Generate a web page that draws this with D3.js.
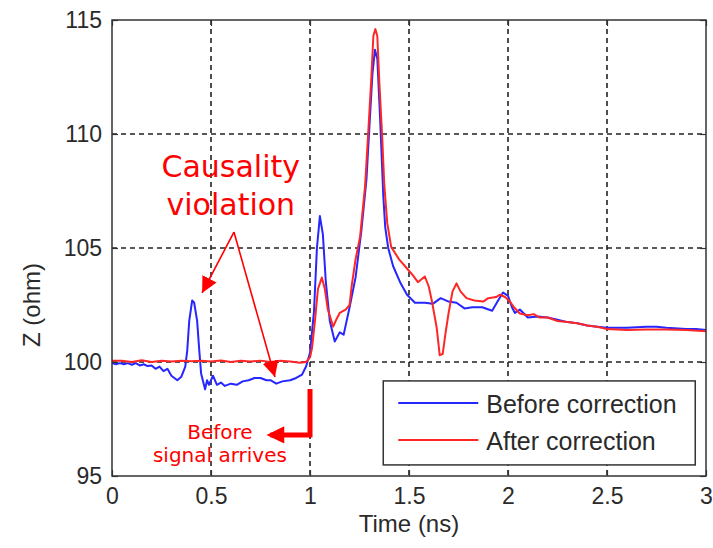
<!DOCTYPE html>
<html>
<head>
<meta charset="utf-8">
<script src="https://cdn.jsdelivr.net/npm/d3@7"></script>
<style>
  body { margin: 0; background: #fff; }
  text { font-family: "Liberation Sans", Arial, sans-serif; }
</style>
</head>
<body>
<svg id="chart" width="713" height="548"></svg>
<script>
// time (ns) ticks and impedance ticks
const xTicks = [0, 0.5, 1, 1.5, 2, 2.5, 3];
const yTicks = [95, 100, 105, 110, 115];

// "Before correction" trace: [time ns, Z ohm]
const before = [
  [0, 99.95], [0.02, 99.9], [0.04, 99.95], [0.06, 99.9], [0.08, 99.95], [0.1, 99.88],
  [0.12, 99.95], [0.14, 99.85], [0.16, 99.9], [0.18, 99.82], [0.2, 99.85], [0.22, 99.7],
  [0.24, 99.8], [0.26, 99.6], [0.28, 99.7], [0.3, 99.4], [0.33, 99.2], [0.35, 99.35],
  [0.37, 99.8], [0.38, 100.5], [0.39, 101.8], [0.405, 102.7], [0.415, 102.6], [0.43, 101.8],
  [0.44, 100.6], [0.45, 99.5], [0.47, 98.8], [0.48, 99.2], [0.49, 99.0], [0.51, 99.4],
  [0.53, 99.0], [0.55, 99.1], [0.57, 98.95], [0.6, 99.05], [0.63, 99.0], [0.66, 99.15],
  [0.69, 99.2], [0.72, 99.3], [0.75, 99.3], [0.78, 99.2], [0.8, 99.2], [0.83, 99.05],
  [0.86, 99.15], [0.9, 99.2], [0.93, 99.3], [0.96, 99.45], [0.98, 99.8], [1.0, 100.4],
  [1.02, 102.2], [1.035, 105.0], [1.05, 106.4], [1.065, 105.6], [1.08, 103.5], [1.1, 101.8],
  [1.125, 100.9], [1.15, 101.3], [1.17, 101.2], [1.2, 102.4], [1.23, 103.7], [1.26, 105.8],
  [1.285, 108.0], [1.3, 110.3], [1.315, 112.6], [1.328, 113.7], [1.34, 113.3], [1.355, 110.5],
  [1.37, 107.3], [1.38, 105.9], [1.395, 105.0], [1.42, 104.2], [1.455, 103.5], [1.49, 102.95],
  [1.53, 102.6], [1.58, 102.6], [1.62, 102.55], [1.66, 102.8], [1.7, 102.65], [1.74, 102.6],
  [1.78, 102.35], [1.82, 102.4], [1.87, 102.4], [1.92, 102.25], [1.95, 102.7], [1.975, 103.05],
  [2.0, 102.9], [2.02, 102.4], [2.035, 102.15], [2.06, 102.3], [2.1, 101.95], [2.15, 102.0],
  [2.2, 101.95], [2.25, 101.85], [2.3, 101.75], [2.35, 101.7], [2.4, 101.6], [2.45, 101.55],
  [2.5, 101.5], [2.6, 101.5], [2.7, 101.55], [2.75, 101.55], [2.8, 101.5], [2.9, 101.45],
  [2.95, 101.45], [3.0, 101.4]
];

// "After correction" trace
const after = [
  [0, 100.05], [0.05, 100.05], [0.1, 100.0], [0.15, 100.08], [0.2, 100.0], [0.25, 100.05],
  [0.3, 100.02], [0.35, 100.06], [0.4, 100.03], [0.45, 100.06], [0.5, 100.02], [0.55, 100.07],
  [0.6, 100.0], [0.65, 100.05], [0.7, 100.02], [0.75, 100.06], [0.8, 100.0], [0.85, 100.05],
  [0.9, 100.02], [0.95, 99.97], [0.98, 100.0], [0.99, 100.1], [1.0, 100.2], [1.01, 100.6],
  [1.025, 101.8], [1.04, 103.2], [1.06, 103.7], [1.075, 103.2], [1.09, 102.3], [1.117, 101.55],
  [1.135, 101.9], [1.15, 102.15], [1.18, 102.3], [1.2, 102.5], [1.21, 103.3], [1.23, 104.5],
  [1.253, 105.5], [1.278, 107.7], [1.295, 110.2], [1.31, 112.5], [1.32, 114.3], [1.33, 114.6],
  [1.34, 114.3], [1.35, 112.3], [1.365, 109.8], [1.375, 107.8], [1.39, 106.1], [1.41, 105.05],
  [1.45, 104.5], [1.49, 104.1], [1.52, 103.8], [1.545, 103.5], [1.58, 103.75], [1.6, 103.3],
  [1.615, 102.7], [1.64, 101.5], [1.655, 100.3], [1.67, 100.35], [1.685, 101.3], [1.7, 102.15],
  [1.72, 103.1], [1.74, 103.45], [1.76, 103.1], [1.79, 102.8], [1.83, 102.7], [1.875, 102.65],
  [1.9, 102.8], [1.94, 102.85], [1.96, 102.95], [1.985, 102.85], [2.01, 102.65], [2.03, 102.4],
  [2.06, 102.13], [2.1, 102.05], [2.13, 102.1], [2.16, 101.95], [2.2, 101.95], [2.25, 101.8],
  [2.3, 101.75], [2.35, 101.7], [2.4, 101.6], [2.45, 101.55], [2.5, 101.45], [2.6, 101.4],
  [2.7, 101.42], [2.8, 101.42], [2.9, 101.4], [3.0, 101.35]
];

const series = [
  { name: "Before correction", color: "#2626ff", values: before },
  { name: "After correction", color: "#ff2626", values: after }
];

const svg = d3.select("#chart");
const margin = { left: 112, top: 20, right: 7, bottom: 72 };
const width = 713 - margin.left - margin.right;
const height = 548 - margin.top - margin.bottom;

const x = d3.scaleLinear().domain([0, 3]).range([0, width]);
const y = d3.scaleLinear().domain([95, 115]).range([height, 0]);

const g = svg.append("g").attr("transform", `translate(${margin.left},${margin.top})`);

// dashed grid
g.append("g").selectAll("line").data(xTicks.slice(1, -1)).enter().append("line")
  .attr("x1", d => x(d)).attr("x2", d => x(d))
  .attr("y1", 0).attr("y2", height)
  .attr("stroke", "#222").attr("stroke-width", 1.6).attr("stroke-dasharray", "5,4");
g.append("g").selectAll("line").data(yTicks.slice(1, -1)).enter().append("line")
  .attr("x1", 0).attr("x2", width)
  .attr("y1", d => y(d)).attr("y2", d => y(d))
  .attr("stroke", "#222").attr("stroke-width", 1.6).attr("stroke-dasharray", "5,4");

// traces
const line = d3.line().x(d => x(d[0])).y(d => y(d[1]));
g.append("g").selectAll("path").data(series).enter().append("path")
  .attr("d", d => line(d.values))
  .attr("fill", "none")
  .attr("stroke", d => d.color)
  .attr("stroke-width", 2)
  .attr("stroke-linejoin", "round");

// axes (MATLAB style: inward ticks on all four sides)
const axisStyle = sel => {
  sel.select(".domain").remove();
  sel.selectAll(".tick line").attr("stroke", "#333").attr("stroke-width", 1.2);
  sel.selectAll(".tick text").attr("fill", "#2a2a2a").style("font-size", "23px");
};
g.append("g").attr("transform", `translate(0,${height})`)
  .call(d3.axisBottom(x).tickValues(xTicks).tickFormat(d3.format("")).tickSizeInner(-6).tickPadding(12))
  .call(axisStyle);
g.append("g")
  .call(d3.axisTop(x).tickValues(xTicks).tickFormat("").tickSizeInner(-6))
  .call(axisStyle);
g.append("g")
  .call(d3.axisLeft(y).tickValues(yTicks).tickSizeInner(-6).tickPadding(10))
  .call(axisStyle);
g.append("g").attr("transform", `translate(${width},0)`)
  .call(d3.axisRight(y).tickValues(yTicks).tickFormat("").tickSizeInner(-6))
  .call(axisStyle);

g.append("rect").attr("width", width).attr("height", height)
  .attr("fill", "none").attr("stroke", "#333").attr("stroke-width", 1.5);

// axis titles
svg.append("text").attr("x", margin.left + width / 2).attr("y", 532)
  .attr("text-anchor", "middle").attr("fill", "#2a2a2a").style("font-size", "24px")
  .text("Time (ns)");
svg.append("text").attr("transform", `translate(40,${margin.top + y(102.5)}) rotate(-90)`)
  .attr("text-anchor", "middle").attr("fill", "#2a2a2a").style("font-size", "24px")
  .text("Z (ohm)");

// legend
const legend = g.append("g").attr("transform", `translate(${x(1.37)},${y(99.17)})`);
legend.append("rect").attr("width", 312).attr("height", 84)
  .attr("fill", "#fff").attr("stroke", "#333").attr("stroke-width", 1.5);
const item = legend.selectAll(".item").data(series).enter().append("g")
  .attr("transform", (d, i) => `translate(0,${22 + i * 37})`);
item.append("line").attr("x1", 15).attr("x2", 95)
  .attr("stroke", d => d.color).attr("stroke-width", 2);
item.append("text").attr("x", 103).attr("y", 10)
  .attr("fill", "#2a2a2a").style("font-size", "25px").text(d => d.name);

// annotations
const red = "#ff0000";
const defs = svg.append("defs");
defs.append("marker").attr("id", "head").attr("viewBox", "0 0 10 10")
  .attr("refX", 10).attr("refY", 5).attr("markerWidth", 16).attr("markerHeight", 16)
  .attr("markerUnits", "userSpaceOnUse").attr("orient", "auto")
  .append("path").attr("d", "M0,0 L10,5 L0,10 z").attr("fill", red);

const causeText = g.append("text").attr("text-anchor", "middle").attr("fill", red)
  .style("font-family", "'DejaVu Sans', Verdana, sans-serif").style("font-size", "30px");
causeText.append("tspan").attr("x", x(0.6)).attr("y", y(108.1)).text("Causality");
causeText.append("tspan").attr("x", x(0.6)).attr("y", y(106.45)).text("violation");

const arrowFrom = [0.616, 105.7];
const arrowTips = [[0.455, 103.03], [0.823, 99.34]];
g.append("g").selectAll("line").data(arrowTips).enter().append("line")
  .attr("x1", x(arrowFrom[0])).attr("y1", y(arrowFrom[1]))
  .attr("x2", d => x(d[0])).attr("y2", d => y(d[1]))
  .attr("stroke", red).attr("stroke-width", 1.6).attr("marker-end", "url(#head)");

// L-shaped "before signal arrives" arrow
g.append("path")
  .attr("d", `M${x(1.0)},${y(98.82)} L${x(1.0)},${y(96.8)} L${x(0.8)},${y(96.8)}`)
  .attr("fill", "none").attr("stroke", red).attr("stroke-width", 5)
  .attr("stroke-linejoin", "miter");
g.append("path")
  .attr("d", `M${x(0.78)},${y(96.8)} L${x(0.87)},${y(97.18)} L${x(0.87)},${y(96.42)} z`)
  .attr("fill", red);

const beforeText = g.append("text").attr("text-anchor", "middle").attr("fill", red)
  .style("font-family", "'DejaVu Sans', Verdana, sans-serif").style("font-size", "20px");
beforeText.append("tspan").attr("x", x(0.545)).attr("y", y(96.62)).text("Before");
beforeText.append("tspan").attr("x", x(0.545)).attr("y", y(95.6)).text("signal arrives");
</script>
</body>
</html>
